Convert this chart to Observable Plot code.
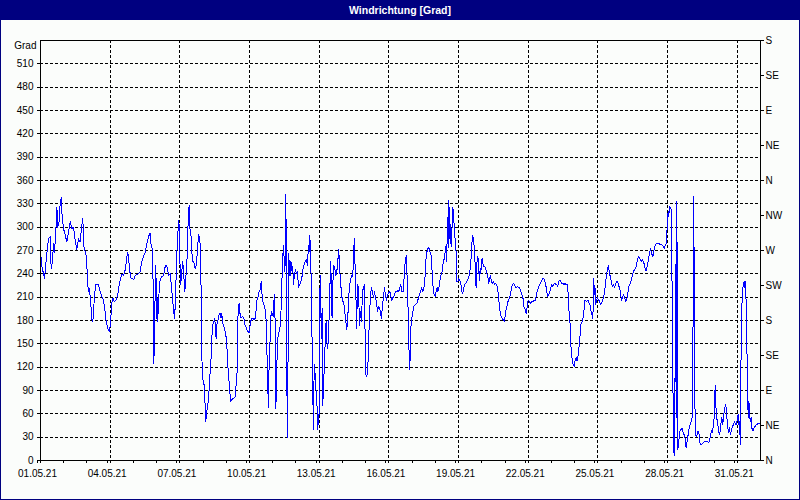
<!DOCTYPE html>
<html>
<head>
<meta charset="utf-8">
<script src="https://cdn.jsdelivr.net/npm/d3@7"></script>
<script src="https://cdn.jsdelivr.net/npm/@observablehq/plot@0.6"></script>
<style>
  html, body { margin: 0; padding: 0; background: #fbfdfb; }
  #wrap { position: relative; width: 800px; height: 500px; background: #fbfdfb; overflow: hidden; font-family: "Liberation Sans", Arial, sans-serif; }
  #title { position: absolute; left: 0; top: 0; width: 800px; height: 20px; background: #000080; color: #fff; font-weight: bold; font-size: 10.5px; line-height: 20px; text-align: center; }
  #chart { position: absolute; left: 0; top: 20px; }
  #border { position: absolute; left: 0; top: 0; width: 798px; height: 498px; border: 1px solid #000080; pointer-events: none; }
  #chart svg line, #chart svg path { shape-rendering: crispEdges; }
</style>
</head>
<body>
<div id="wrap">
  <div id="title">Windrichtung [Grad]</div>
  <div id="chart"></div>
  <div id="border"></div>
</div>
<script>
// readings: [hours since 01.05.21 00:00, wind direction in degrees]
const may01to06 = [[0,268],[1.4,250],[4.1,234],[6.5,266],[8.3,285],[10,288],[11,247],[12.4,256],[13.4,279],[14.5,268],[15.8,294],[16.9,326],[17.9,300],[19.3,307],[20.3,330],[21.4,338],[22,320],[23.8,298],[25.5,290],[27.2,281],[28.9,294],[30.7,307],[32.4,298],[34.1,300],[35.8,283],[37.5,271],[39.3,285],[41,281],[42.7,303],[43.7,311],[45.1,271],[46.8,268],[47.9,251],[48.9,226],[49.6,217],[50.6,221],[51.3,211],[52.3,196],[53,181],[54.1,179],[54.8,191],[55.8,213],[57.2,226],[59.9,226],[61.7,217],[63.4,211],[65.1,206],[66.8,191],[67.9,179],[69.6,170],[70.9,166],[72.3,174],[73.4,200],[74.7,209],[76.5,204],[77.9,206],[79.9,213],[81.3,226],[82.7,234],[84.1,240],[85.8,238],[87.5,245],[88.9,258],[89.9,268],[90.9,264],[92,245],[93.7,234],[95.4,234],[96.4,232],[97.8,238],[101.3,240],[103,243],[104.7,256],[106.4,262],[108.2,268],[109.9,279],[111.6,288],[113.3,292],[114.4,275],[116.1,271],[116.4,200],[117.1,125],[117.8,157],[118.5,221],[119.2,251],[119.9,183],[120.6,209],[121.2,179],[121.9,206]];
const may06to11 = [[123.6,232],[125.3,236],[127.1,238],[128.8,249],[129.8,251],[131.2,247],[132.2,238],[134,240],[135,228],[136.4,209],[137.4,194],[138.4,183],[139.1,196],[139.8,222],[140.8,264],[141.9,290],[142.6,309],[143.3,303],[143.9,268],[144.6,226],[145.3,232],[146,243],[147,256],[148.1,238],[149.1,217],[150.1,234],[151.2,251],[152.2,294],[152.9,318],[153.6,328],[154.3,298],[155.3,294],[156.3,268],[157.4,256],[158.8,254],[159.8,247],[160.8,251],[162.2,268],[163.2,290],[164.3,288],[165,277],[165.6,243],[166.3,196],[167,115],[168.1,102],[169.1,97],[169.8,80],[170.8,50],[171.8,63],[172.9,71],[173.6,80],[174.6,97],[175.3,115],[176.3,132],[177,157],[178,175],[179.1,179],[180.1,183],[180.8,166],[181.5,157],[182.2,175],[183.2,179],[184.2,187],[185.6,189],[186.6,183],[187.3,189],[188.7,175],[190.1,170],[191.5,162],[192.5,149],[193.5,123],[194.6,106],[195.6,89],[196.6,76],[197.7,78],[199.4,80],[201.1,82],[202.1,97],[203.2,115],[203.9,183],[204.6,191],[205.2,202],[206.3,187],[207.3,183],[208.7,185],[210.1,183],[211.4,174],[212.8,170],[214.2,166],[215.6,164],[216.6,174],[218,183],[219.4,183],[220.7,181],[222.1,183],[223.5,205],[224.5,209],[225.9,217],[226.9,219],[228,230],[228.7,217],[229.7,205],[231.4,198],[232.8,191],[233.8,149],[234.9,93],[235.6,68],[236.2,123],[236.9,132],[237.6,183],[239,191],[240.4,185],[241.4,209],[242.1,213],[242.8,123],[243.1,67],[243.8,89],[244.5,136],[245.2,157],[246.6,166],[248,174],[249,209],[250,254],[251.1,277]];
const may11to16 = [[251.4,274],[252.1,243],[252.8,251],[253.5,342],[254.2,226],[254.5,110],[255.2,29],[255.9,149],[256.6,266],[257.3,238],[258,256],[258.6,238],[259.3,254],[260,243],[260.7,249],[261.4,226],[262.4,240],[263.5,245],[264.5,240],[265.5,243],[266.6,223],[267.6,226],[268.6,228],[270,234],[271,245],[272.1,251],[273.5,256],[274.8,258],[275.9,251],[276.9,277],[277.6,268],[278.3,290],[279,268],[279.7,232],[280.3,183],[281.4,84],[282.1,40],[282.8,123],[283.4,119],[284.1,102],[284.8,89],[285.5,85],[286.2,40],[286.9,59],[287.6,46],[288.3,89],[288.9,238],[289.6,200],[290.3,157],[291,196],[291.7,70],[292.4,97],[293.1,115],[294.1,149],[295.1,179],[295.8,153],[296.9,144],[297.6,162],[298.2,183],[299.3,234],[300,256],[300.7,205],[301.3,183],[302,226],[303.1,251],[304.1,247],[305.1,238],[306.2,243],[307.2,256],[308.2,272],[309.3,243],[310.3,226],[311.3,211],[312.4,205],[313.4,202],[314.4,191],[315.5,179],[316.5,168],[317.5,183],[318.6,213],[319.6,226],[320.6,234],[321.7,238],[322.7,236],[323.7,272],[324.4,285],[325.1,247],[325.8,226],[326.5,170],[327.2,200],[327.9,226],[328.6,222],[329.6,174],[330.6,191],[331.7,179],[332.7,217],[333.7,222],[334.8,226],[335.4,162],[336.1,110],[337.2,108],[338.2,115],[338.9,149],[339.9,183],[341,213],[342,222],[343,217],[344.1,209],[345.1,217],[346.1,209],[347.2,205],[348.2,191],[349.2,198],[350.3,196],[351.3,191],[352.3,183],[353.4,200],[354.4,209],[355.4,222],[356.5,213],[357.5,206],[358.5,213],[359.6,215],[360.6,217],[361.6,215],[363,205],[364,209],[365.1,211],[366.1,215],[367.1,217],[368.2,217],[369.2,219],[370.2,217],[371.3,222],[372.3,226],[373.3,217],[375.1,217]];
const may16to21 = [[376.1,247],[377.1,258],[378.2,264],[378.9,230],[379.5,209],[380.2,179],[380.9,136],[381.6,117],[382.3,149],[383,179],[383.7,183],[384.7,191],[385.7,198],[387.1,200],[388.8,202],[390.6,209],[391.6,213],[392.6,217],[394,222],[395,217],[396.1,222],[397.1,230],[398.1,256],[399.2,268],[400.2,272],[401.2,274],[402.3,268],[403.3,268],[404.3,251],[405.4,226],[406.4,215],[407.8,211],[408.8,217],[409.9,222],[410.5,217],[411.6,222],[412.6,230],[413.6,238],[414.7,240],[415.7,251],[416.7,256],[417.8,266],[418.5,268],[419.1,277],[419.8,256],[420.5,313],[421.2,274],[421.9,334],[422.6,311],[423.3,279],[424,303],[424.7,275],[425.4,307],[426,326],[426.7,320],[427.4,303],[428.1,294],[428.8,272],[429.5,268],[430.2,230],[431.2,230],[432.2,234],[433.3,232],[434.3,228],[435.3,217],[436.4,215],[437.4,222],[438.4,226],[439.5,228],[440.5,230],[441.5,232],[442.6,236],[443.6,243],[444.6,251],[445.3,271],[446,283],[446.7,290],[447.4,283],[448.1,275],[448.8,260],[449.5,243],[450.1,222],[450.8,251],[451.5,262],[452.2,260],[452.9,243],[453.6,232],[454.3,247],[455,240],[455.7,256],[456.3,260],[457,254],[458.1,249],[459.1,249],[460.1,247],[461.2,240],[462.2,238],[462.9,228],[463.9,232],[465,238],[466,230],[467,228],[468.1,230],[469.1,226],[470.1,228],[471.2,226],[472.2,222],[473.2,213],[473.9,202],[474.9,191],[476,185],[477,183],[478,181],[479.1,179],[480.1,185],[481.1,194],[482.2,200],[483.2,205],[484.6,209],[485.6,213],[486.7,222],[487.7,226],[488.7,228],[489.8,226],[490.8,222],[491.8,222],[492.9,224],[493.9,222],[494.9,222],[496,219],[497,215],[498,211],[499.1,206]];
const may21to26 = [[499.4,198],[500.8,194],[501.8,189],[502.9,198],[503.9,206],[504.9,205],[506.3,202],[507.7,205],[509.4,205],[511.1,206],[512.2,211],[513.2,217],[514.6,222],[515.6,226],[516.6,228],[518,232],[519,234],[520.1,234],[521.1,230],[522.1,226],[523.2,217],[524.2,211],[525.2,213],[526.3,217],[527.3,222],[528.3,226],[529.4,224],[530.4,226],[531.4,228],[532.5,226],[533.5,226],[534.5,224],[535.6,230],[536.6,232],[537.6,230],[538.7,228],[539.7,228],[540.7,226],[542.1,228],[543.1,226],[544.2,226],[544.9,222],[545.6,205],[546.2,191],[546.9,183],[547.6,166],[548.3,142],[549,132],[549.7,130],[550.4,123],[551.4,121],[552.4,128],[553.5,132],[554.5,128],[555.2,132],[556.2,142],[557.3,157],[558.3,175],[559.3,177],[560.4,183],[561.4,187],[562.1,205],[562.8,206],[563.8,205],[564.8,205],[565.9,206],[566.9,202],[567.9,200],[569,191],[570,187],[570.7,183],[571.4,205],[571.7,234],[572.4,213],[573.1,222],[573.8,200],[574.5,206],[575.5,209],[576.6,206],[577.6,205],[578.6,200],[579.7,202],[580.7,205],[581.7,209],[582.8,217],[583.8,226],[584.8,238],[585.9,247],[586.9,251],[587.9,240],[589,236],[590,228],[591,224],[592.1,226],[593.1,222],[594.1,226],[595.2,230],[596.2,230],[597.2,226],[598.3,222],[599.3,217],[600.3,206],[601.4,209],[602.4,213],[603.4,211],[604.5,205],[605.5,206],[606.5,211],[607.6,222],[608.6,226],[609.6,228],[610.7,234],[611.7,238],[612.7,243],[613.8,245],[614.8,247],[615.8,251],[616.9,258],[617.9,262],[618.9,260],[620,258],[621,256],[622,258],[623.1,256]];
const may26to31 = [[624.8,247],[625.8,244],[627.2,251],[628.2,258],[629.3,266],[630.3,272],[631.3,268],[632.4,262],[633.4,264],[634.4,275],[635.5,277],[636.5,279],[638.6,279],[640.3,278],[642,277],[643.7,275],[644.8,272],[645.5,277],[646.5,279],[647.2,290],[647.9,311],[648.6,320],[649.2,313],[649.9,326],[650.6,324],[651.3,326],[652,317],[652.7,209],[653.4,89],[654.1,80],[654.4,12],[655.1,6],[655.4,55],[655.8,131],[656.1,252],[656.5,183],[656.8,55],[657.5,333],[658.2,170],[658.5,14],[659.2,21],[659.9,29],[660.9,38],[662,40],[663,42],[664.1,36],[665.1,33],[666.1,29],[667.1,16],[668.2,25],[669.2,33],[670.3,42],[671.3,46],[672.3,50],[673.3,55],[674,123],[674.4,196],[674.7,339],[675.4,264],[675.8,183],[676.1,110],[676.5,33],[677.5,31],[678.5,33],[679.6,38],[680.6,33],[681.6,21],[682.7,21],[683.7,21],[685.1,23],[686.8,25],[688.5,25],[690.2,23],[691.3,25],[692.3,33],[693.3,38],[694.4,36],[695.4,46],[696.4,59],[697.1,97],[697.8,71],[698.8,55],[699.9,46],[700.9,36],[701.9,33],[703,46],[704,55],[705,46],[706.1,59],[707.1,68],[708.1,72],[708.8,63],[709.9,46],[710.9,36],[711.9,42],[713,33],[714,40],[715,44],[716.1,46],[717.1,50],[718.1,46],[719.2,46],[720.2,55],[720.9,59],[721.2,46],[721.9,50],[722.6,38],[723.3,21],[723.6,119],[724.3,145],[725,213],[725.7,222],[726.4,226],[727.1,230],[727.8,222],[728.5,230],[729.1,205],[729.8,149],[730.5,119],[731.2,55],[731.9,76],[732.6,68],[733.3,50],[734.3,55],[735.3,40],[736.4,38],[737.4,42],[738.4,44],[739.5,46],[740.5,46],[741.5,48],[742.6,48]];

const dateLabels = ["01.05.21","04.05.21","07.05.21","10.05.21","13.05.21","16.05.21","19.05.21","22.05.21","25.05.21","28.05.21","31.05.21"];
const gradTicks = [0,30,60,90,120,150,180,210,240,270,300,330,360,390,420,450,480,510];
const compassValues = [0,45,90,135,180,225,270,315,360,405,450,495,540];
const compassLabels = ["N","NE","E","SE","S","SW","W","NW","N","NE","E","SE","S"];

const start = Date.UTC(2021, 4, 1);
const end = Date.UTC(2021, 5, 1);
const parse = d3.utcParse("%d.%m.%y");
const fmt = d3.utcFormat("%d.%m.%y");
const data = [...may01to06, ...may06to11, ...may11to16, ...may16to21, ...may21to26, ...may26to31]
  .map(([h, g]) => ({date: new Date(start + h * 3600000), grad: g}));
const labelDates = dateLabels.map(parse);
const gridDates = labelDates.slice(1);
const dayTicks = d3.utcDay.range(new Date(start), new Date(end));
const gridY = gradTicks.filter(v => v > 0);

const chart = Plot.plot({
  width: 800,
  height: 480,
  marginLeft: 40,
  marginRight: 40,
  marginTop: 20,
  marginBottom: 40,
  style: {background: "transparent", fontFamily: "'Liberation Sans', Arial, sans-serif", fontSize: "10px", color: "black", overflow: "visible"},
  x: {type: "utc", domain: [new Date(start), new Date(end)]},
  y: {domain: [0, 540]},
  marks: [
    Plot.ruleY(gridY, {stroke: "black", strokeDasharray: "3,2", strokeWidth: 1}),
    Plot.ruleX(gridDates, {stroke: "black", strokeDasharray: "3,2", strokeWidth: 1}),
    Plot.line(data, {x: "date", y: "grad", stroke: "#0000ff", strokeWidth: 1}),
    Plot.frame({stroke: "black", strokeWidth: 1}),
    Plot.axisY({anchor: "left", ticks: gradTicks, tickSize: 3, tickPadding: 4, label: null, tickFormat: d => String(d)}),
    Plot.axisY({anchor: "right", ticks: compassValues, tickSize: 3, tickPadding: 2, label: null, tickFormat: d => compassLabels[compassValues.indexOf(d)]}),
    Plot.axisX({ticks: dayTicks, tickSize: 3, tickFormat: () => "", label: null}),
    Plot.axisX({ticks: labelDates, tickSize: 3, tickPadding: 6, tickFormat: fmt, label: null, dx: -3}),
    Plot.text([{y: 540, t: "Grad"}], {y: "y", frameAnchor: "left", text: "t", textAnchor: "end", dx: -4, dy: 5})
  ]
});
document.getElementById("chart").appendChild(chart);
</script>
</body>
</html>
